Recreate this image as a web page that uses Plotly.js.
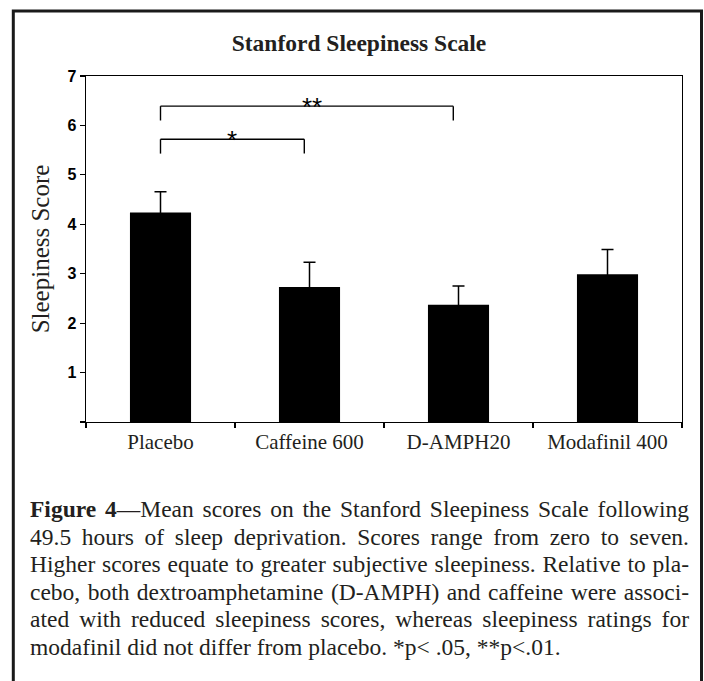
<!DOCTYPE html>
<html>
<head>
<meta charset="utf-8">
<script src="https://cdn.plot.ly/plotly-3.0.1.min.js"></script>
<style>
  html, body { margin: 0; padding: 0; background: #fff; }
  #chart { width: 704px; height: 681px; }
</style>
</head>
<body>
<div id="chart"></div>
<script>
// ---------- data ----------
const categories = ['Placebo', 'Caffeine 600', 'D-AMPH20', 'Modafinil 400'];
const meanScores = [4.24, 2.73, 2.37, 2.99];
const errorValues = [0.42, 0.50, 0.38, 0.50];
const yTickValues = [0, 1, 2, 3, 4, 5, 6, 7];
const yTickLabels = ['', '1', '2', '3', '4', '5', '6', '7'];
// significance brackets
const bracketFrom = [0, 0];
const bracketTo = [1, 2];
const bracketLevel = [5.72, 6.39];
const bracketLabel = ['*', '**'];
const chartTitle = 'Stanford Sleepiness Scale';
const yTitle = 'Sleepiness Score';
const captionLines = [
  '<b>Figure 4</b>—Mean scores on the Stanford Sleepiness Scale following',
  '49.5 hours of sleep deprivation. Scores range from zero to seven.',
  'Higher scores equate to greater subjective sleepiness. Relative to pla-',
  'cebo, both dextroamphetamine (D-AMPH) and caffeine were associ-',
  'ated with reduced sleepiness scores, whereas sleepiness ratings for',
  'modafinil did not differ from placebo. *p&lt; .05, **p&lt;.01.'
];

// ---------- layout geometry ----------
const W = 704, H = 681;
const M = { l: 86, r: 22, t: 76, b: 259 };
const PW = W - M.l - M.r, PH = H - M.t - M.b;
const px2x = px => (px - M.l) / PW;
const py2y = py => (H - M.b - py) / PH;

const serif = 'Liberation Serif, Times New Roman, Times, serif';
const sans = 'Liberation Sans, Arial, Helvetica, sans-serif';
const ink = '#000000';
const textInk = '#231f20';

const trace = {
  type: 'bar',
  x: categories,
  y: meanScores,
  width: 0.41,
  marker: { color: ink, line: { width: 0 } },
  error_y: { type: 'data', array: errorValues, visible: true, color: ink, thickness: 1.5, width: 6 },
  hoverinfo: 'x+y'
};

// bracket shapes
const shapes = [];
const drop = 0.29;      // vertical drop of bracket ends (data units)
const endInset = 0.035; // right end slightly left of category centre
for (let i = 0; i < bracketFrom.length; i++) {
  const x0 = bracketFrom[i], x1 = bracketTo[i] - endInset, yv = bracketLevel[i];
  const ln = { color: ink, width: 1.4 };
  shapes.push({ type: 'line', xref: 'x', yref: 'y', x0: x0, x1: x1, y0: yv, y1: yv, line: ln });
  shapes.push({ type: 'line', xref: 'x', yref: 'y', x0: x0, x1: x0, y0: yv, y1: yv - drop, line: ln });
  shapes.push({ type: 'line', xref: 'x', yref: 'y', x0: x1, x1: x1, y0: yv, y1: yv - drop, line: ln });
}
// outer frame
shapes.push({
  type: 'rect', xref: 'paper', yref: 'paper',
  x0: px2x(13.3), x1: px2x(701.5), y0: py2y(720), y1: py2y(11),
  line: { color: '#1a1a1a', width: 3 }, fillcolor: 'rgba(0,0,0,0)', layer: 'above'
});

const annotations = [];
const starX = [0.48, 1.02];
for (let i = 0; i < bracketLabel.length; i++) {
  annotations.push({
    xref: 'x', yref: 'y', x: starX[i], y: bracketLevel[i],
    text: bracketLabel[i], showarrow: false, xanchor: 'center', yanchor: 'middle', yshift: -1,
    font: { family: sans, size: 26, color: ink }
  });
}
const captionY = [509, 536.5, 564, 591.5, 619, 646.5];
captionLines.forEach((t, i) => {
  annotations.push({
    xref: 'paper', yref: 'paper', x: px2x(28), y: py2y(captionY[i]),
    text: t, showarrow: false, xanchor: 'left', yanchor: 'middle', align: 'left',
    font: { family: serif, size: 23.5, color: textInk }
  });
});

const layout = {
  width: W, height: H,
  margin: M,
  paper_bgcolor: '#ffffff', plot_bgcolor: '#ffffff',
  showlegend: false,
  title: {
    text: chartTitle, x: 359 / W, xanchor: 'center', y: 1 - 43 / H, yanchor: 'middle', yref: 'container',
    font: { family: serif, size: 23.5, color: textInk, weight: 700 }
  },
  xaxis: {
    type: 'category', range: [-0.5, 3.5],
    showline: true, linecolor: ink, linewidth: 1.3, mirror: true,
    ticks: 'outside', tickson: 'boundaries', ticklen: 5, tickwidth: 1.2, tickcolor: ink,
    tickfont: { family: serif, size: 21, color: textInk },
    showgrid: false, zeroline: false, fixedrange: true
  },
  yaxis: {
    range: [0, 7], tickvals: yTickValues,
    ticktext: yTickLabels.map(s => s ? '<b>' + s + '</b>' : s),
    showline: true, linecolor: ink, linewidth: 1.3, mirror: true,
    ticks: 'outside', ticklen: 5, tickwidth: 1.2, tickcolor: ink,
    tickfont: { family: 'Liberation Sans, Arial, sans-serif', size: 16, color: '#000000', weight: 700 },
    showgrid: false, zeroline: false, fixedrange: true,
    title: { text: yTitle, font: { family: serif, size: 25, color: textInk }, standoff: 10 }
  },
  shapes: shapes,
  annotations: annotations
};

Plotly.newPlot('chart', [trace], layout, { displayModeBar: false, staticPlot: true }).then(justifyCaption);

// justify caption lines (all but the last) to the text column width
function justifyCaption() {
  const targetWidth = 687 - 28;
  const plain = captionLines.map(l => l.replace(/<[^>]+>/g, '').replace(/&lt;/g, '<'));
  document.querySelectorAll('#chart .annotation-text').forEach(node => {
    const txt = node.textContent;
    const idx = plain.indexOf(txt);
    if (idx < 0 || idx === plain.length - 1) return;
    const spaces = (txt.match(/ /g) || []).length;
    const w = node.getComputedTextLength();
    if (spaces > 0 && w < targetWidth) {
      node.style.wordSpacing = ((targetWidth - w) / spaces) + 'px';
    }
  });
}
</script>
</body>
</html>
